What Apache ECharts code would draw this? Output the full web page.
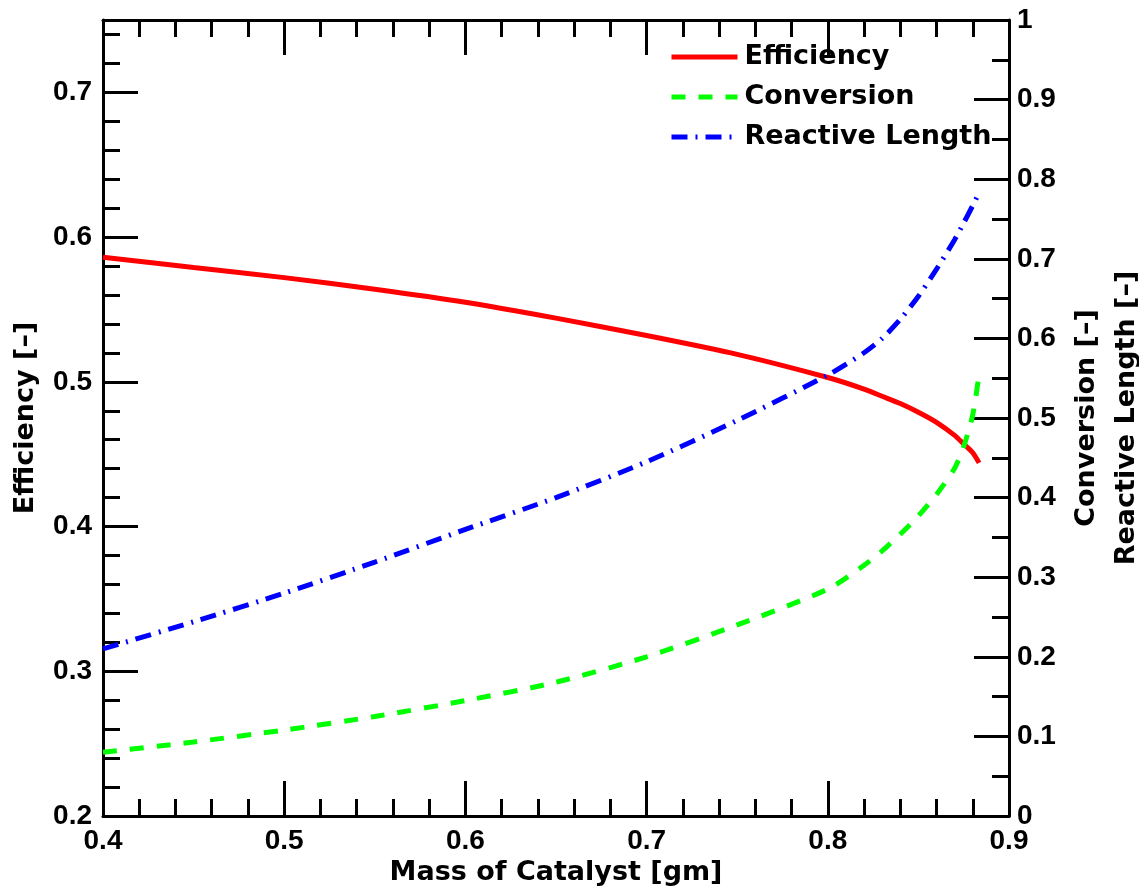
<!DOCTYPE html>
<html>
<head>
<meta charset="utf-8">
<script src="https://cdn.jsdelivr.net/npm/echarts@6/dist/echarts.min.js"></script>
<style>
  html, body { margin: 0; padding: 0; background: #fff; }
  #chart { width: 1139px; height: 892px; }
</style>
</head>
<body>
<div id="chart"></div>
<script>
// Mass of catalyst [gm] sampled along the curves
const massCatalyst = [0.40, 0.45, 0.50, 0.55, 0.60, 0.65, 0.70, 0.75, 0.80, 0.82, 0.83, 0.84, 0.85, 0.86, 0.87, 0.875, 0.88, 0.8835];
// Efficiency [-] (left axis)
const efficiency = [0.586, 0.579, 0.572, 0.564, 0.555, 0.544, 0.532, 0.519, 0.503, 0.495, 0.490, 0.485, 0.479, 0.472, 0.463, 0.457, 0.451, 0.444];
// Conversion [-] (right axis)
const conversion = [0.080, 0.093, 0.108, 0.125, 0.145, 0.168, 0.200, 0.240, 0.285, 0.315, 0.333, 0.354, 0.377, 0.404, 0.437, 0.464, 0.504, 0.555];
// Reactive length [-] (right axis)
const reactiveLength = [0.210, 0.244, 0.280, 0.319, 0.360, 0.400, 0.445, 0.497, 0.554, 0.582, 0.600, 0.624, 0.653, 0.687, 0.724, 0.745, 0.767, 0.783];

const seriesNames = ['Efficiency', 'Conversion', 'Reactive Length'];
const xTitle = 'Mass of Catalyst [gm]';
const leftTitle = 'Efficiency [–]';
const rightTitle = 'Conversion [–]\nReactive Length [–]';

const NUM_FONT = '"Liberation Sans", Arial, Helvetica, sans-serif';
const TEXT_FONT = '"DejaVu Sans", "Liberation Sans", Arial, sans-serif';
const black = '#000';

function pairs(xs, ys) { return xs.map((x, i) => [x, ys[i]]); }

const labelStyle = { color: black, fontFamily: NUM_FONT, fontWeight: 'bold', fontSize: 28 };
const titleStyle = { color: black, fontFamily: TEXT_FONT, fontWeight: 'bold', fontSize: 27 };
const axisLine = { show: true, lineStyle: { color: black, width: 3 } };
const majorTick = { show: true, inside: true, length: 35, lineStyle: { color: black, width: 3 } };
const minorTickStyle = { color: black, width: 3 };

const chart = echarts.init(document.getElementById('chart'), null, { renderer: 'canvas' });

chart.setOption({
  animation: false,
  backgroundColor: '#fff',
  grid: { left: 103, right: 130, top: 20, bottom: 76, containLabel: false, outerBoundsMode: 'none' },
  legend: {
    data: seriesNames,
    orient: 'vertical',
    left: 664,
    top: 37,
    itemWidth: 66,
    itemHeight: 20,
    itemGap: 10,
    itemStyle: { opacity: 0 },
    lineStyle: { width: 5 },
    textStyle: Object.assign({ lineHeight: 30, padding: [0, 0, 0, 2] }, titleStyle)
  },
  xAxis: [
    {
      type: 'value', position: 'bottom', min: 0.4, max: 0.9, interval: 0.1,
      axisLine: axisLine,
      axisTick: majorTick,
      minorTick: { show: true, splitNumber: 5, length: 17, lineStyle: minorTickStyle },
      splitLine: { show: false },
      axisLabel: Object.assign({ margin: 11 }, labelStyle),
      name: xTitle, nameLocation: 'middle', nameGap: 42,
      nameTextStyle: titleStyle
    },
    {
      type: 'value', position: 'top', min: 0.4, max: 0.9, interval: 0.1,
      axisLine: axisLine,
      axisTick: majorTick,
      minorTick: { show: true, splitNumber: 5, length: 17, lineStyle: minorTickStyle },
      splitLine: { show: false },
      axisLabel: { show: false }
    }
  ],
  yAxis: [
    {
      // left axis: fine ticks every 0.02, labels on the tenths
      type: 'value', position: 'left', min: 0.2, max: 0.75, interval: 0.02,
      axisLine: axisLine,
      axisTick: { show: true, inside: true, length: 17, lineStyle: minorTickStyle },
      splitLine: { show: false },
      axisLabel: Object.assign({
        margin: 11,
        formatter: function (v) {
          const t = Math.round(v * 10);
          if (Math.abs(v * 10 - t) < 1e-6 && v < 0.745) return (t / 10).toFixed(1);
          return '';
        }
      }, labelStyle),
      name: leftTitle, nameLocation: 'middle', nameGap: 64,
      nameTextStyle: titleStyle
    },
    {
      // left axis: long ticks on the tenths
      type: 'value', position: 'left', min: 0.2, max: 0.75, interval: 0.1,
      axisLine: { show: false },
      axisTick: majorTick,
      splitLine: { show: false },
      axisLabel: { show: false }
    },
    {
      type: 'value', position: 'right', min: 0, max: 1, interval: 0.1,
      axisLine: axisLine,
      axisTick: majorTick,
      minorTick: { show: true, splitNumber: 2, length: 17, lineStyle: minorTickStyle },
      splitLine: { show: false },
      axisLabel: Object.assign({ margin: 8 }, labelStyle),
      name: rightTitle, nameLocation: 'middle', nameGap: 54,
      nameTextStyle: Object.assign({ lineHeight: 40 }, titleStyle)
    }
  ],
  series: [
    {
      name: seriesNames[0], type: 'line', xAxisIndex: 0, yAxisIndex: 0,
      data: pairs(massCatalyst, efficiency),
      showSymbol: false, symbol: 'none', smooth: 0.25,
      lineStyle: { color: '#ff0000', width: 5, type: 'solid' },
      itemStyle: { color: '#ff0000' }
    },
    {
      name: seriesNames[1], type: 'line', xAxisIndex: 0, yAxisIndex: 2,
      data: pairs(massCatalyst, conversion),
      showSymbol: false, symbol: 'none', smooth: 0.25,
      lineStyle: { color: '#00ff00', width: 5, type: [14, 13] },
      itemStyle: { color: '#00ff00' }
    },
    {
      name: seriesNames[2], type: 'line', xAxisIndex: 0, yAxisIndex: 2,
      data: pairs(massCatalyst, reactiveLength),
      showSymbol: false, symbol: 'none', smooth: 0.25,
      lineStyle: { color: '#0000ff', width: 5, type: [16, 8, 2, 8] },
      itemStyle: { color: '#0000ff' }
    }
  ]
});
</script>
</body>
</html>
